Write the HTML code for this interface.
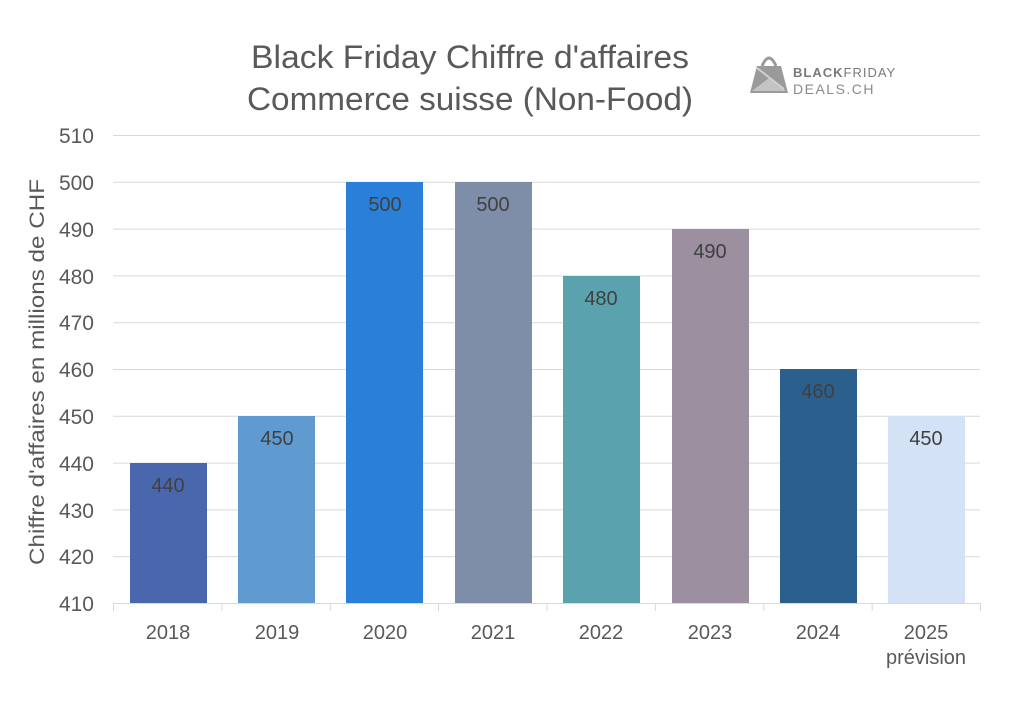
<!DOCTYPE html>
<html><head><meta charset="utf-8"><style>
html,body{margin:0;padding:0;background:#fff}
svg{display:block;font-family:"Liberation Sans",sans-serif}
</style></head><body>
<svg width="1024" height="707" viewBox="0 0 1024 707" xmlns="http://www.w3.org/2000/svg">
<rect width="1024" height="707" fill="#fff"/>
<text x="470" y="68" text-anchor="middle" font-size="32" fill="#595959" textLength="438" lengthAdjust="spacingAndGlyphs">Black Friday Chiffre d'affaires</text>
<text x="470" y="110" text-anchor="middle" font-size="32" fill="#595959" textLength="446" lengthAdjust="spacingAndGlyphs">Commerce suisse (Non-Food)</text>
<!-- logo -->
<g>
<polygon points="750,93 788,93 781,66 757,66" fill="#9a9a9a"/>
<path d="M762,66 Q769,50 776,66" fill="none" stroke="#9a9a9a" stroke-width="3"/>
<polygon points="752,91 769,78 786,91" fill="#c4c4c4"/>
<line x1="757" y1="68" x2="784" y2="89" stroke="#d0d0d0" stroke-width="2"/>
<text x="793" y="77" font-size="13" font-weight="bold" fill="#7a7a7a" letter-spacing="1">BLACK<tspan font-weight="normal">FRIDAY</tspan></text>
<text x="793" y="94" font-size="14" fill="#8a8a8a" letter-spacing="1.5">DEALS.CH</text>
</g>
<!-- grid -->
<g stroke="#d9d9d9" stroke-width="1">
<line x1="113" x2="980" y1="135.5" y2="135.5"/>
<line x1="113" x2="980" y1="182.3" y2="182.3"/>
<line x1="113" x2="980" y1="229.1" y2="229.1"/>
<line x1="113" x2="980" y1="275.9" y2="275.9"/>
<line x1="113" x2="980" y1="322.7" y2="322.7"/>
<line x1="113" x2="980" y1="369.5" y2="369.5"/>
<line x1="113" x2="980" y1="416.3" y2="416.3"/>
<line x1="113" x2="980" y1="463.1" y2="463.1"/>
<line x1="113" x2="980" y1="509.9" y2="509.9"/>
<line x1="113" x2="980" y1="556.7" y2="556.7"/>
<line x1="113" x2="980.5" y1="603.5" y2="603.5"/>
<line x1="113.5" x2="113.5" y1="603" y2="611"/>
<line x1="221.9" x2="221.9" y1="603" y2="611"/>
<line x1="330.3" x2="330.3" y1="603" y2="611"/>
<line x1="438.6" x2="438.6" y1="603" y2="611"/>
<line x1="547" x2="547" y1="603" y2="611"/>
<line x1="655.4" x2="655.4" y1="603" y2="611"/>
<line x1="763.8" x2="763.8" y1="603" y2="611"/>
<line x1="872.1" x2="872.1" y1="603" y2="611"/>
<line x1="980.5" x2="980.5" y1="603" y2="611"/>
</g>
<!-- y labels -->
<g font-size="21" fill="#595959" text-anchor="end">
<text x="94" y="143">510</text><text x="94" y="190">500</text><text x="94" y="237">490</text>
<text x="94" y="284">480</text><text x="94" y="330">470</text><text x="94" y="377">460</text>
<text x="94" y="424">450</text><text x="94" y="471">440</text><text x="94" y="518">430</text>
<text x="94" y="564">420</text><text x="94" y="611">410</text>
</g>
<text transform="translate(44,372) rotate(-90)" text-anchor="middle" font-size="21" fill="#595959" textLength="386" lengthAdjust="spacingAndGlyphs">Chiffre d'affaires en millions de CHF</text>
<!-- bars -->
<rect x="130" y="463" width="77" height="140" fill="#4a67ae"/>
<rect x="238" y="416" width="77" height="187" fill="#5f9bd1"/>
<rect x="346" y="182" width="77" height="421" fill="#2a7fd9"/>
<rect x="455" y="182" width="77" height="421" fill="#7f8ea8"/>
<rect x="563" y="276" width="77" height="327" fill="#5aa3ae"/>
<rect x="672" y="229" width="77" height="374" fill="#9b8fa0"/>
<rect x="780" y="369" width="77" height="234" fill="#2b5f8d"/>
<rect x="888" y="416" width="77" height="187" fill="#d3e3f5"/>
<!-- data labels -->
<g font-size="20" fill="#404040" text-anchor="middle">
<text x="168" y="492">440</text><text x="277" y="445">450</text><text x="385" y="211">500</text>
<text x="493" y="211">500</text><text x="601" y="305">480</text><text x="710" y="258">490</text>
<text x="818" y="398">460</text><text x="926" y="445">450</text>
</g>
<!-- x labels -->
<g font-size="20" fill="#595959" text-anchor="middle">
<text x="168" y="639">2018</text><text x="277" y="639">2019</text><text x="385" y="639">2020</text>
<text x="493" y="639">2021</text><text x="601" y="639">2022</text><text x="710" y="639">2023</text>
<text x="818" y="639">2024</text><text x="926" y="639">2025</text>
<text x="926" y="664">prévision</text>
</g>
</svg>
</body></html>
